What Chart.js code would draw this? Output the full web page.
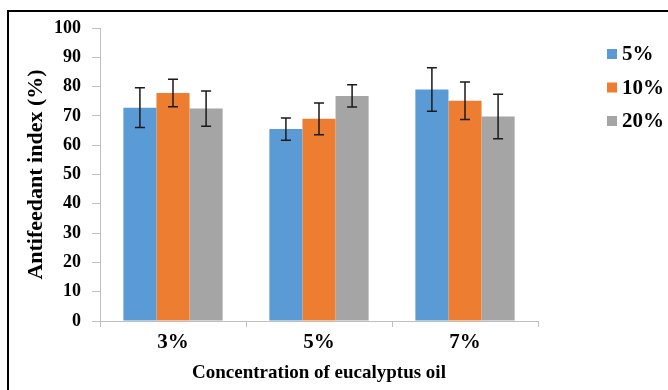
<!DOCTYPE html>
<html>
<head>
<meta charset="utf-8">
<script src="https://cdn.jsdelivr.net/npm/chart.js@4.4.1/dist/chart.umd.min.js"></script>
<style>
  html, body { margin: 0; padding: 0; background: #fff; }
  #wrap { width: 668px; height: 390px; position: relative; }
</style>
</head>
<body>
<div id="wrap"><canvas id="c" width="668" height="390"></canvas></div>
<script>
const categories = ['3%', '5%', '7%'];
const seriesNames = ['5%', '10%', '20%'];
const values5  = [72.8, 65.5, 79.0];
const values10 = [77.8, 69.0, 75.2];
const values20 = [72.5, 76.8, 69.8];
const errors5  = [6.8, 3.8, 7.4];
const errors10 = [4.7, 5.4, 6.4];
const errors20 = [6.0, 3.8, 7.6];
const yTicks = [0, 10, 20, 30, 40, 50, 60, 70, 80, 90, 100];
const colors = ['#5B9BD5', '#ED7D31', '#A5A5A5'];
const FONT = '"Liberation Serif", "Times New Roman", serif';

const errorBars = {
  id: 'errorBars',
  afterDatasetsDraw(chart) {
    const ctx = chart.ctx;
    const ys = chart.scales.y;
    ctx.save();
    ctx.strokeStyle = '#1a1a1a';
    ctx.lineWidth = 1.5;
    chart.data.datasets.forEach((ds, di) => {
      const meta = chart.getDatasetMeta(di);
      meta.data.forEach((bar, i) => {
        const v = ds.data[i], e = ds.errors[i];
        const yt = ys.getPixelForValue(v + e);
        const yb = ys.getPixelForValue(v - e);
        const x = bar.x, cw = 5;
        ctx.beginPath();
        ctx.moveTo(x, yt); ctx.lineTo(x, yb);
        ctx.moveTo(x - cw, yt); ctx.lineTo(x + cw, yt);
        ctx.moveTo(x - cw, yb); ctx.lineTo(x + cw, yb);
        ctx.stroke();
      });
    });
    ctx.restore();
  }
};

const customLegend = {
  id: 'customLegend',
  afterDraw(chart) {
    const ctx = chart.ctx;
    ctx.save();
    ctx.font = 'bold 21px ' + FONT;
    ctx.textBaseline = 'middle';
    ctx.fillStyle = '#000';
    const x0 = 607, yStart = 54, step = 33.5;
    chart.data.datasets.forEach((ds, i) => {
      const y = yStart + i * step;
      ctx.fillStyle = ds.backgroundColor;
      ctx.fillRect(x0, y - 5, 10, 10);
      ctx.fillStyle = '#000';
      ctx.fillText(ds.label, x0 + 15, y + 1);
    });
    ctx.restore();
  }
};

const frame = {
  id: 'frame',
  afterDraw(chart) {
    const ctx = chart.ctx;
    ctx.save();
    ctx.strokeStyle = '#000';
    ctx.lineWidth = 2;
    ctx.beginPath();
    ctx.moveTo(7, 11); ctx.lineTo(668, 11);
    ctx.moveTo(8, 10); ctx.lineTo(8, 390);
    ctx.stroke();
    ctx.restore();
  }
};

new Chart(document.getElementById('c'), {
  type: 'bar',
  data: {
    labels: categories,
    datasets: [
      { label: seriesNames[0], data: values5,  errors: errors5,  backgroundColor: colors[0] },
      { label: seriesNames[1], data: values10, errors: errors10, backgroundColor: colors[1] },
      { label: seriesNames[2], data: values20, errors: errors20, backgroundColor: colors[2] }
    ]
  },
  options: {
    responsive: false,
    animation: false,
    devicePixelRatio: 1,
    categoryPercentage: 0.68,
    barPercentage: 1.0,
    layout: { padding: { left: 0, right: 130, top: 28, bottom: 0 } },
    plugins: { legend: { display: false }, tooltip: { enabled: false } },
    scales: {
      x: {
        afterFit(s) { s.height = 69; },
        border: { color: '#BFBFBF', width: 1 },
        grid: { offset: true, drawOnChartArea: false, tickLength: 6, color: '#BFBFBF' },
        ticks: { color: '#000', padding: 3, font: { family: FONT, size: 21, weight: 'bold' } },
        title: { display: true, text: 'Concentration of eucalyptus oil', color: '#000',
                 padding: { top: 0, bottom: 6 }, font: { family: FONT, size: 19, weight: 'bold' } }
      },
      y: {
        min: 0, max: 100,
        afterFit(s) { s.width = 100; },
        afterBuildTicks(s) { s.ticks = yTicks.map(v => ({ value: v })); },
        border: { color: '#BFBFBF', width: 1 },
        grid: { drawOnChartArea: false, tickLength: 8, color: '#BFBFBF' },
        ticks: { color: '#000', padding: 11, font: { family: FONT, size: 18, weight: 'bold' } },
        title: { display: true, text: 'Antifeedant index (%)', color: '#000',
                 padding: { top: 23, bottom: 0 }, font: { family: FONT, size: 22, weight: 'bold' } }
      }
    }
  },
  plugins: [errorBars, customLegend, frame]
});
</script>
</body>
</html>
